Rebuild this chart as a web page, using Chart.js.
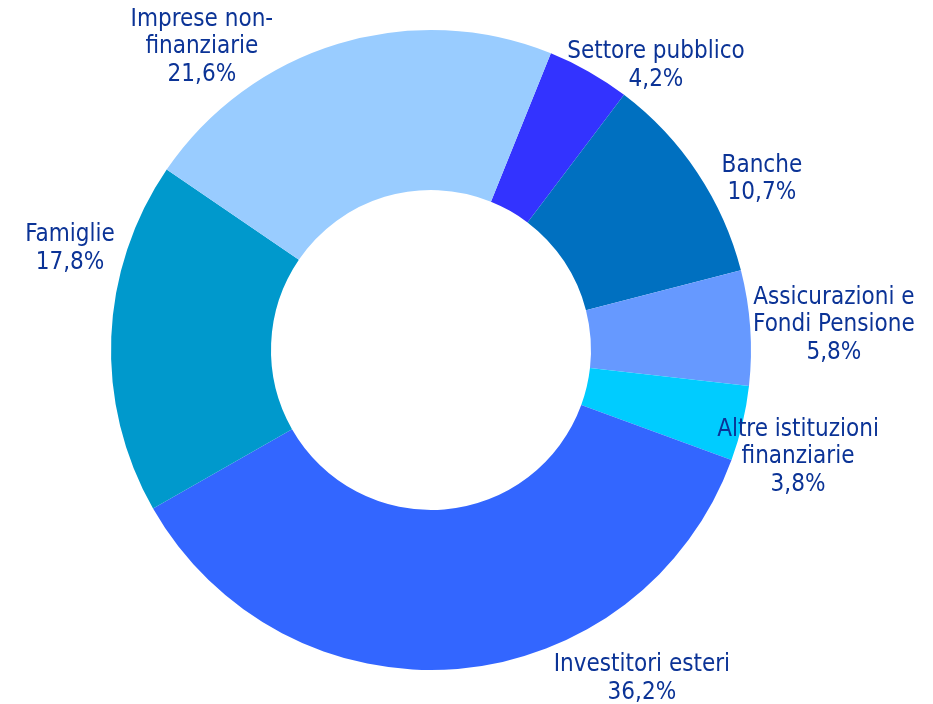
<!DOCTYPE html>
<html lang="it">
<head>
   <meta charset="UTF-8">
   <title>Detentori</title>
   <script src="https://cdn.jsdelivr.net/npm/chart.js@4.4.1/dist/chart.umd.min.js"></script>
   <style>
      html, body { margin: 0; padding: 0; background: #fff; }
      #wrap { width: 933px; height: 704px; }
   </style>
</head>
<body>
   <div id="wrap"><canvas id="myChart" width="933" height="704"></canvas></div>
   <script>
      // categorie (righe dell'etichetta)
      const categorie = [
         ['Settore pubblico'],
         ['Banche'],
         ['Assicurazioni e', 'Fondi Pensione'],
         ['Altre istituzioni', 'finanziarie'],
         ['Investitori esteri'],
         ['Famiglie'],
         ['Imprese non-', 'finanziarie']
      ];
      const quote = [4.2, 10.7, 5.8, 3.8, 36.2, 17.8, 21.6];
      const colori = ['#3333FF', '#0070C0', '#6699FF', '#00CCFF', '#3366FF', '#0099CC', '#99CCFF'];

      // posizione etichette, in frazioni del raggio esterno rispetto al centro
      const posEtichette = [
         [0.703, -0.888], [1.034, -0.534], [1.259, -0.078], [1.147, 0.334],
         [0.659, 1.027], [-1.128, -0.317], [-0.716, -0.947]
      ];

      const fmt = (v) => v.toFixed(1).replace('.', ',') + '%';

      const etichette = {
         id: 'etichette',
         afterDraw(chart) {
            const ctx = chart.ctx;
            const arc = chart.getDatasetMeta(0).data[0];
            const cx = arc.x, cy = arc.y, r = arc.outerRadius;
            const lh = 27.5;
            ctx.save();
            ctx.font = '24px "DejaVu Sans Condensed", "DejaVu Sans", sans-serif';
            ctx.fillStyle = '#0B3396';
            ctx.textAlign = 'center';
            ctx.textBaseline = 'middle';
            chart.data.datasets[0].data.forEach((v, i) => {
               const righe = categorie[i].concat([fmt(v)]);
               const x = cx + posEtichette[i][0] * r;
               const y0 = cy + posEtichette[i][1] * r - (righe.length - 1) * lh / 2;
               righe.forEach((t, k) => ctx.fillText(t, x, y0 + k * lh));
            });
            ctx.restore();
         }
      };

      new Chart(document.getElementById('myChart'), {
         type: 'doughnut',
         data: {
            labels: categorie.map(c => c.join(' ')),
            datasets: [{
               data: quote,
               backgroundColor: colori,
               borderWidth: 0
            }]
         },
         options: {
            responsive: false,
            animation: false,
            rotation: 22,
            cutout: '50%',
            layout: { padding: { left: 111, right: 182, top: 30, bottom: 34 } },
            plugins: {
               legend: { display: false },
               tooltip: { enabled: false }
            }
         },
         plugins: [etichette]
      });
   </script>
</body>
</html>
